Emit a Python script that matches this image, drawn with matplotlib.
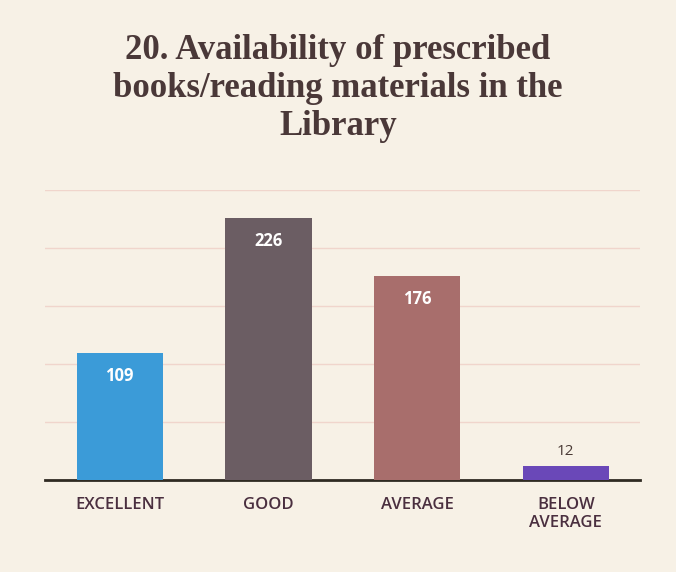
import numpy as np
import matplotlib.pyplot as plt

categories = ["EXCELLENT", "GOOD", "AVERAGE", "BELOW\nAVERAGE"]
values = [109, 226, 176, 12]
colors = ["#3b9bd8", "#6b5d63", "#a86e6c", "#6a48b8"]
title = "20. Availability of prescribed\nbooks/reading materials in the\nLibrary"

fig = plt.figure(figsize=(6.76, 5.72), dpi=100)
fig.patch.set_facecolor("#f7f1e6")
ax = fig.add_axes([0.067, 0.161, 0.88, 0.507])
ax.set_facecolor("#f7f1e6")

x = np.arange(len(categories))
bars = ax.bar(x, values, width=0.58, color=colors, zorder=3)

for i, (b, v) in enumerate(zip(bars, values)):
    if v > 50:
        ax.text(b.get_x() + b.get_width() / 2, v - 12, str(v), ha="center", va="top",
                color="white", fontsize=12, fontweight="bold", family="Open Sans")
    else:
        ax.text(b.get_x() + b.get_width() / 2, v + 6, str(v), ha="center", va="bottom",
                color="#4a3a35", fontsize=11, family="Open Sans")

ax.set_xlim(-0.5, 3.5)
ax.set_ylim(0, 250)
ax.set_yticks([50, 100, 150, 200, 250])
ax.yaxis.grid(True, color="#f0d5cc", linewidth=1, zorder=0)
ax.tick_params(axis="y", left=False, labelleft=False)
ax.tick_params(axis="x", length=0, pad=12)
ax.set_xticks(x)
ax.set_xticklabels(categories, fontsize=12, color="#4a2f3f", family="Open Sans",
                   fontweight="semibold")
for s in ["top", "right", "left"]:
    ax.spines[s].set_visible(False)
ax.spines["bottom"].set_color("#2f2a22")
ax.spines["bottom"].set_linewidth(2)

fig.text(0.5, 0.94, title, ha="center", va="top", fontsize=25, fontweight="bold",
         family="Liberation Serif", color="#4a3838", linespacing=1.2)

fig.savefig("out.png", facecolor=fig.get_facecolor())
